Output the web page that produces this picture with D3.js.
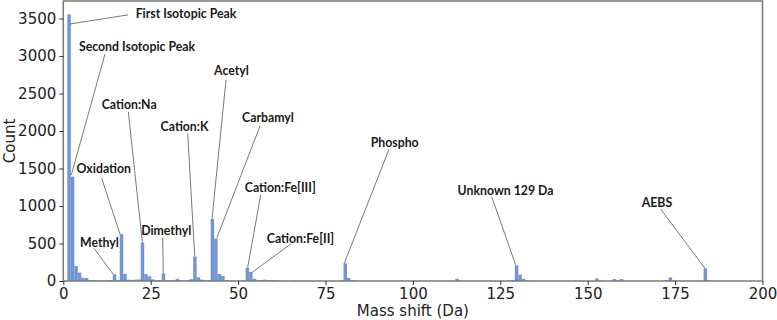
<!DOCTYPE html>
<html><head><meta charset="utf-8">
<script src="https://cdn.jsdelivr.net/npm/d3@7"></script>
<style>html,body{margin:0;padding:0;background:#fff;}svg{display:block;}</style>
</head><body>
<svg id="chart" width="777" height="320"></svg>
<script>
// ---- data ----
const binStarts = [1,2,3,4,5,6,7,8,9,10,11,12,13,14,15,16,17,18,19,20,21,22,23,24,25,26,27,28,29,30,31,32,33,34,35,36,37,38,39,40,41,42,43,44,45,46,47,48,49,50,51,52,53,54,55,56,57,58,59,60,61,62,65,66,70,72,79,80,81,82,83,96,100,112,113,127,128,129,130,131,132,152,153,157,158,159,172,173,174,183,184];
const counts   = [3555,1390,200,111,42,40,12,10,6,5,4,5,10,89,12,625,95,18,15,18,20,515,92,62,22,8,10,102,12,6,8,28,8,5,8,25,328,50,18,6,10,826,565,93,68,12,5,4,3,3,6,178,120,30,8,12,18,10,10,8,4,3,6,4,3,3,8,236,40,12,4,3,3,30,8,5,12,210,85,30,8,35,5,26,5,26,10,48,8,169,10];
const xTicks = [0,25,50,75,100,125,150,175,200];
const yTicks = [0,500,1000,1500,2000,2500,3000,3500];
const xLabel = "Mass shift (Da)";
const yLabel = "Count";

// annotations: label, text centre (mass, count), line start, line end
const annLabels = ["First Isotopic Peak","Second Isotopic Peak","Cation:Na","Cation:K","Acetyl","Carbamyl","Oxidation","Methyl","Dimethyl","Cation:Fe[III]","Cation:Fe[II]","Phospho","Unknown 129 Da","AEBS"];
const annText  = [[35.1,3573],[21.1,3124],[18.85,2347],[34.67,2057],[48.11,2813],[58.55,2177],[11.58,1503],[10.35,516],[29.43,667],[62.07,1244],[67.85,573],[94.79,1847],[126.5,1213],[169.8,1044]];
const annStart = [[18.5,3547],[11.93,3027],[18.59,2257],[35.58,1969],[46.54,2680],[56.26,2067],[10.98,1369],[8.78,436],[28.43,583],[56.46,1147],[65.05,493],[93.16,1756],[122.54,1124],[170.9,956]];
const annEnd   = [[1.92,3427],[2.29,1413],[22.6,524],[37.59,333],[42.53,827],[43.88,569],[16.22,627],[14.3,89],[28.6,103],[52.75,183],[53.89,111],[80.38,236],[129.4,213],[183.55,169]];

// ---- drawing ----
const L = 63.3, R = 762.5, T = 1, B = 281;
const binOffset = 0.15, binWidth = 1;
const svg = d3.select("#chart");
const x = d3.scaleLinear().domain([0,200]).range([L,R]);
const y = d3.scaleLinear().domain([0,3733]).range([B,T]);

const bars = binStarts.map((b,i)=>({b, c: counts[i]}));
svg.append("g").selectAll("rect").data(bars).join("rect")
  .attr("x", d=>x(d.b+binOffset))
  .attr("width", d=>x(d.b+binOffset+binWidth)-x(d.b+binOffset))
  .attr("y", d=>y(d.c))
  .attr("height", d=>y(0)-y(d.c))
  .attr("fill", "#7296d4");

// frame
svg.append("rect").attr("x",L).attr("y",T).attr("width",R-L).attr("height",B-T)
  .attr("fill","none").attr("stroke","#7a7a7a").attr("stroke-width",1.5);

const fontAxis = "DejaVu Sans, sans-serif";
const gx = svg.append("g").attr("transform",`translate(0,${B})`)
  .call(d3.axisBottom(x).tickValues(xTicks).tickSize(4).tickPadding(3).tickFormat(d3.format("d")));
const gy = svg.append("g").attr("transform",`translate(${L},0)`)
  .call(d3.axisLeft(y).tickValues(yTicks).tickSize(4).tickPadding(3).tickFormat(d3.format("d")));
[gx,gy].forEach(g=>{
  g.select(".domain").remove();
  g.selectAll(".tick line").attr("stroke","#333").attr("stroke-width",1);
  g.selectAll(".tick text").attr("fill","#222").style("font-family",fontAxis).style("font-size","15px");
});

svg.append("text").attr("x",(L+R)/2).attr("y",316).attr("text-anchor","middle")
  .style("font-family",fontAxis).style("font-size","15px").attr("fill","#222").text(xLabel);
svg.append("text").attr("transform",`translate(15,${(T+B)/2}) rotate(-90)`).attr("text-anchor","middle")
  .style("font-family",fontAxis).style("font-size","15px").attr("fill","#222").text(yLabel);

// annotations
const ga = svg.append("g");
annLabels.forEach((lab,i)=>{
  ga.append("line")
    .attr("x1",x(annStart[i][0])).attr("y1",y(annStart[i][1]))
    .attr("x2",x(annEnd[i][0])).attr("y2",y(annEnd[i][1]))
    .attr("stroke","#555").attr("stroke-width",0.8);
  ga.append("text").attr("x",x(annText[i][0])).attr("y",y(annText[i][1]))
    .attr("text-anchor","middle").attr("dominant-baseline","central")
    .style("font-family","Lato, 'Open Sans', sans-serif").style("font-weight","700").style("font-size","12.3px")
    .attr("fill","#1a1a1a").text(lab);
});
</script>
</body></html>
